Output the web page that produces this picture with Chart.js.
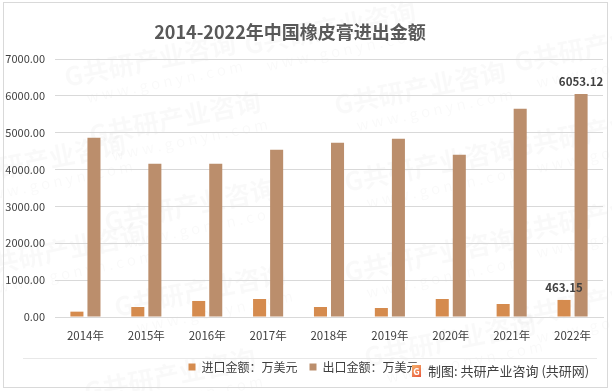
<!DOCTYPE html>
<html>
<head>
<meta charset="utf-8">
<script src="https://cdn.jsdelivr.net/npm/chart.js@4"></script>
<style>
  html, body { margin: 0; padding: 0; background: #fff; }
  #wrap { width: 612px; height: 391px; position: relative; }
</style>
</head>
<body>
<div id="wrap"><canvas id="chart" width="612" height="391"></canvas></div>
<script>
// data
const years = ["2014年", "2015年", "2016年", "2017年", "2018年", "2019年", "2020年", "2021年", "2022年"];
const importValues = [145, 272, 435, 489, 272, 245, 489, 353, 463.15];
const exportValues = [4864, 4158, 4158, 4538, 4728, 4837, 4402, 5652, 6053.12];
const seriesNames = ["进口金额：万美元", "出口金额：万美元"];
const titleText = "2014-2022年中国橡皮膏进出金额";
const creditText = "制图: 共研产业咨询 (共研网)";

const FONT = "'Noto Sans CJK SC', 'Noto Sans', sans-serif";

/* =============================
   FRAME, TITLE, WATERMARK
============================== */
const decor = {
    id: "decor",
    beforeDraw(chart) {
        const ctx = chart.ctx;
        ctx.save();
        ctx.fillStyle = "#fff";
        ctx.fillRect(0, 0, 612, 391);

        // faint watermarks
        const marks = [[150, 60], [330, 28], [600, 45], [175, 118], [420, 88], [190, 205], [430, 165], [600, 130],
                       [200, 290], [430, 255], [600, 215], [60, 250], [40, 160], [600, 300], [450, 340], [170, 375]];
        ctx.fillStyle = "rgba(0,0,0,0.024)";
        marks.forEach(([x, y]) => {
            ctx.save();
            ctx.translate(x, y);
            ctx.rotate(-0.2);
            ctx.textAlign = "center";
            ctx.textBaseline = "middle";
            ctx.font = "bold 26px " + FONT;
            ctx.fillText("G共研产业咨询", 0, 0);
            ctx.font = "15px " + FONT;
            ctx.fillText("w w w . g o n y n . c o m", 10, 24);
            ctx.restore();
        });

        // outer frame
        ctx.strokeStyle = "#D9D9D9";
        ctx.lineWidth = 1;
        ctx.strokeRect(3.5, 2.5, 604, 385);

        // thin separator above legend
        ctx.strokeStyle = "#E8E8E8";
        ctx.beginPath();
        ctx.moveTo(23, 358.5);
        ctx.lineTo(597, 358.5);
        ctx.stroke();

        // title
        ctx.fillStyle = "#595959";
        ctx.font = "bold 18px " + FONT;
        ctx.textAlign = "center";
        ctx.textBaseline = "middle";
        ctx.fillText(titleText, 290, 32);
        ctx.restore();
    },
    afterDraw(chart) {
        const ctx = chart.ctx;
        ctx.save();
        // small logo + credit line
        const g = ctx.createLinearGradient(412, 365, 421, 377);
        g.addColorStop(0, "#F6B26B");
        g.addColorStop(1, "#E8573C");
        ctx.fillStyle = g;
        ctx.fillRect(412, 365, 9, 12);
        ctx.fillStyle = "#fff";
        ctx.font = "bold 9px " + FONT;
        ctx.textAlign = "center";
        ctx.textBaseline = "middle";
        ctx.fillText("G", 416.5, 371.5);

        ctx.fillStyle = "#404040";
        ctx.font = "13px " + FONT;
        ctx.textAlign = "left";
        ctx.fillText(creditText, 428, 371);
        ctx.restore();
    }
};

/* =============================
   VALUE LABELS (last year only)
============================== */
const lastLabels = {
    id: "lastLabels",
    afterDatasetsDraw(chart) {
        const ctx = chart.ctx;
        const i = years.length - 1;
        ctx.save();
        ctx.fillStyle = "#404040";
        ctx.font = "bold 11.5px " + FONT;
        ctx.textAlign = "center";
        ctx.textBaseline = "middle";
        chart.data.datasets.forEach((ds, d) => {
            const bar = chart.getDatasetMeta(d).data[i];
            ctx.fillText(ds.data[i].toFixed(2), bar.x, bar.y - 12);
        });
        ctx.restore();
    }
};

new Chart(document.getElementById("chart"), {
    type: "bar",
    data: {
        labels: years,
        datasets: [
            { label: seriesNames[0], data: importValues, backgroundColor: "#D58B4E" },
            { label: seriesNames[1], data: exportValues, backgroundColor: "#BB8E6C" }
        ]
    },
    options: {
        responsive: false,
        animation: false,
        devicePixelRatio: 1,
        categoryPercentage: 0.56,
        barPercentage: 0.765,
        layout: { padding: { top: 59, left: 4, right: 9, bottom: 8 } },
        plugins: {
            title: { display: false },
            tooltip: { enabled: false },
            legend: {
                position: "bottom",
                labels: {
                    boxWidth: 7,
                    boxHeight: 7,
                    padding: 12,
                    color: "#404040",
                    font: { size: 12, family: FONT }
                }
            }
        },
        scales: {
            x: {
                grid: { display: false, drawTicks: false },
                border: { display: true, color: "#D9D9D9" },
                ticks: { color: "#404040", padding: 12, font: { size: 11.5, family: FONT } },
                afterFit: s => { s.height = 32; }
            },
            y: {
                min: 0,
                max: 7000,
                grid: { color: "#D9D9D9", drawTicks: false },
                border: { display: false },
                ticks: {
                    stepSize: 1000,
                    color: "#404040",
                    padding: 10,
                    font: { size: 11, family: FONT },
                    callback: v => v.toFixed(2)
                },
                afterFit: s => { s.width = 51; }
            }
        }
    },
    plugins: [decor, lastLabels]
});
</script>
</body>
</html>
